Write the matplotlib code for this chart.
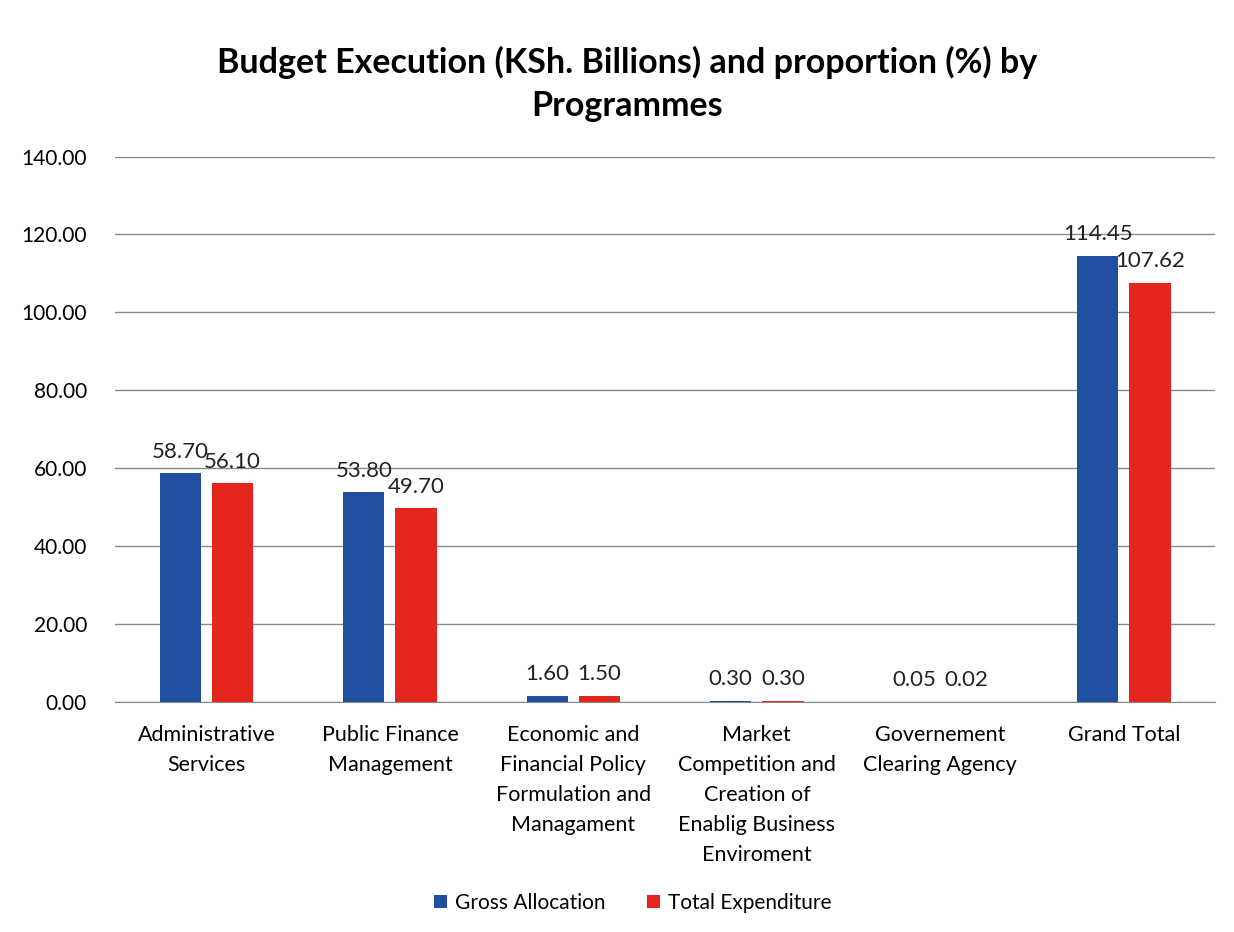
import numpy as np
import matplotlib
matplotlib.use('Agg')
import matplotlib.pyplot as plt

plt.rcParams['font.family'] = ['Lato', 'DejaVu Sans']

categories = ['Administrative\nServices', 'Public Finance\nManagement',
              'Economic and\nFinancial Policy\nFormulation and\nManagament',
              'Market\nCompetition and\nCreation of\nEnablig Business\nEnviroment',
              'Governement\nClearing Agency', 'Grand Total']
gross_allocation = [58.70, 53.80, 1.60, 0.30, 0.05, 114.45]
total_expenditure = [56.10, 49.70, 1.50, 0.30, 0.02, 107.62]

BLUE = '#1f4f9e'
RED = '#e5261f'

fig = plt.figure(figsize=(12.34, 9.32), dpi=100)
ax = fig.add_axes([0.093, 0.247, 0.892, 0.585])

x = np.arange(len(categories))
w = 0.225
gap = 0.06
b1 = ax.bar(x - (w + gap) / 2, gross_allocation, w, color=BLUE, label='Gross Allocation', zorder=3)
b2 = ax.bar(x + (w + gap) / 2, total_expenditure, w, color=RED, label='Total Expenditure', zorder=3)

for bars, vals in ((b1, gross_allocation), (b2, total_expenditure)):
    for b, v in zip(bars, vals):
        ax.text(b.get_x() + b.get_width() / 2, v + 3.0, f'{v:.2f}', ha='center', va='bottom',
                fontsize=16, color='#222222', zorder=4)

ax.set_xlim(-0.5, len(categories) - 0.5)
ax.set_ylim(0, 140)
ax.set_yticks(np.arange(0, 141, 20))
ax.set_yticklabels([f'{t:.2f}' for t in np.arange(0, 141, 20)], fontsize=15)
ax.set_xticks(x)
ax.set_xticklabels(categories, fontsize=15.5, linespacing=1.62, va='top')
ax.tick_params(axis='x', length=0, pad=17)
ax.tick_params(axis='y', length=0, pad=20)
ax.yaxis.grid(True, color='#8a8a8a', linewidth=1.0, zorder=0)
for s in ('top', 'right', 'left'):
    ax.spines[s].set_visible(False)
ax.spines['bottom'].set_color('#8a8a8a')

fig.suptitle('Budget Execution (KSh. Billions) and proportion (%) by\nProgrammes',
             fontsize=24.5, fontweight='bold', x=0.508, y=0.91, va='center', linespacing=1.45)

fig.legend(handles=[b1, b2], loc='center', bbox_to_anchor=(0.513, 0.031), ncol=2, frameon=False,
           fontsize=15, handlelength=0.6, handleheight=0.6, columnspacing=2.0, handletextpad=0.4)

fig.savefig('out.png', dpi=100)
